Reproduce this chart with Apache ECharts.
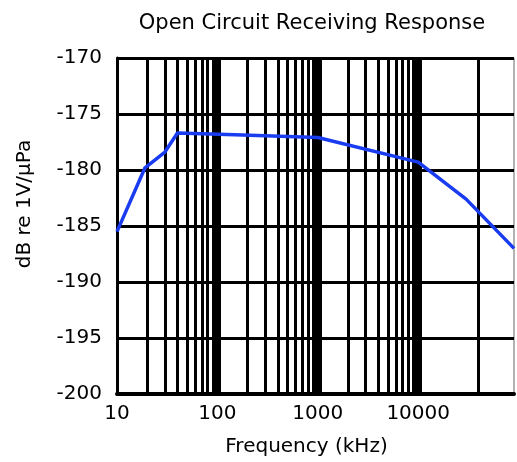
<!DOCTYPE html>
<html>
<head>
<meta charset="utf-8">
<script src="https://cdn.jsdelivr.net/npm/echarts@6/dist/echarts.min.js"></script>
<style>
  html, body { margin: 0; padding: 0; background: #fff; }
  #chart { width: 517px; height: 462px; }
</style>
</head>
<body>
<div id="chart"></div>
<script>
// frequency (kHz) and response (dB re 1V/uPa)
var freq = [10, 19, 30, 40, 150, 1000, 10000, 30000, 90000];
var resp = [-185.5, -179.8, -178.4, -176.7, -176.85, -177.1, -179.3, -182.6, -187.0];

// log grid lines inside each decade, and the heavy decade lines
var minorGrid = [20, 30, 40, 50, 60, 70, 80, 90,
  200, 300, 400, 500, 600, 700, 800, 900,
  2000, 3000, 4000, 5000, 6000, 7000, 8000, 9000,
  40000];
var decadeGrid = [100, 1000, 10000];

var yTicks = [-200, -195, -190, -185, -180, -175, -170];

var fontName = "DejaVu Sans";

(function() {
  var myChart = echarts.init(document.getElementById("chart"));
  var option = {
    animation: false,
    title: {
      text: "Open Circuit Receiving Response",
      left: 307,
      textAlign: "center",
      top: 8,
      textStyle: {
        fontFamily: fontName,
        fontSize: 21,
        fontWeight: "normal",
        color: "#000"
      }
    },
    grid: {
      left: 117,
      top: 58,
      right: 2,
      bottom: 62,
      show: true,
      borderColor: "#666",
      borderWidth: 1
    },
    xAxis: {
      type: "log",
      logBase: 10,
      min: 10,
      max: 90000,
      name: "Frequency (kHz)",
      nameLocation: "middle",
      nameGap: 43,
      nameTextStyle: {
        fontFamily: fontName,
        fontSize: 20,
        color: "#000",
        padding: [0, 18, 0, 0]
      },
      axisLine: { lineStyle: { color: "#000", width: 4 } },
      axisTick: { show: false },
      splitLine: { show: false },
      axisLabel: {
        margin: 10,
        fontFamily: fontName,
        fontSize: 20,
        color: "#000",
        formatter: function(v) {
          var e = Math.log10(v);
          return Math.abs(e - Math.round(e)) < 1e-6 && v < 50000 ? String(Math.round(v)) : "";
        }
      }
    },
    yAxis: {
      type: "value",
      min: yTicks[0],
      max: yTicks[yTicks.length - 1],
      interval: 5,
      name: "dB re 1V/\u03bcPa",
      nameLocation: "middle",
      nameGap: 82,
      nameRotate: 90,
      nameTextStyle: {
        fontFamily: fontName,
        fontSize: 20,
        color: "#000",
        padding: [0, 0, 0, 44]
      },
      axisLine: { show: true, lineStyle: { color: "#000", width: 3 } },
      axisTick: { show: false },
      splitLine: { lineStyle: { color: "#000", width: 3 } },
      axisLabel: {
        margin: 15,
        fontFamily: fontName,
        fontSize: 20,
        color: "#000"
      }
    },
    series: [
      {
        type: "line",
        data: [],
        z: 1,
        silent: true,
        markLine: {
          silent: true,
          symbol: ["none", "none"],
          label: { show: false },
          lineStyle: { color: "#000", width: 3, type: "solid" },
          data: minorGrid.map(function(v) { return { xAxis: v }; })
        }
      },
      {
        type: "line",
        data: [],
        z: 1,
        silent: true,
        markLine: {
          silent: true,
          symbol: ["none", "none"],
          label: { show: false },
          lineStyle: { color: "#000", width: 7, type: "solid" },
          data: decadeGrid.map(function(v) { return { xAxis: v }; })
        }
      },
      {
        name: "OCRV",
        type: "line",
        z: 5,
        symbol: "none",
        data: freq.map(function(f, i) { return [f, resp[i]]; }),
        lineStyle: { color: "#1a3cf0", width: 3.5 }
      }
    ]
  };
  myChart.setOption(option);
})();
</script>
</body>
</html>
